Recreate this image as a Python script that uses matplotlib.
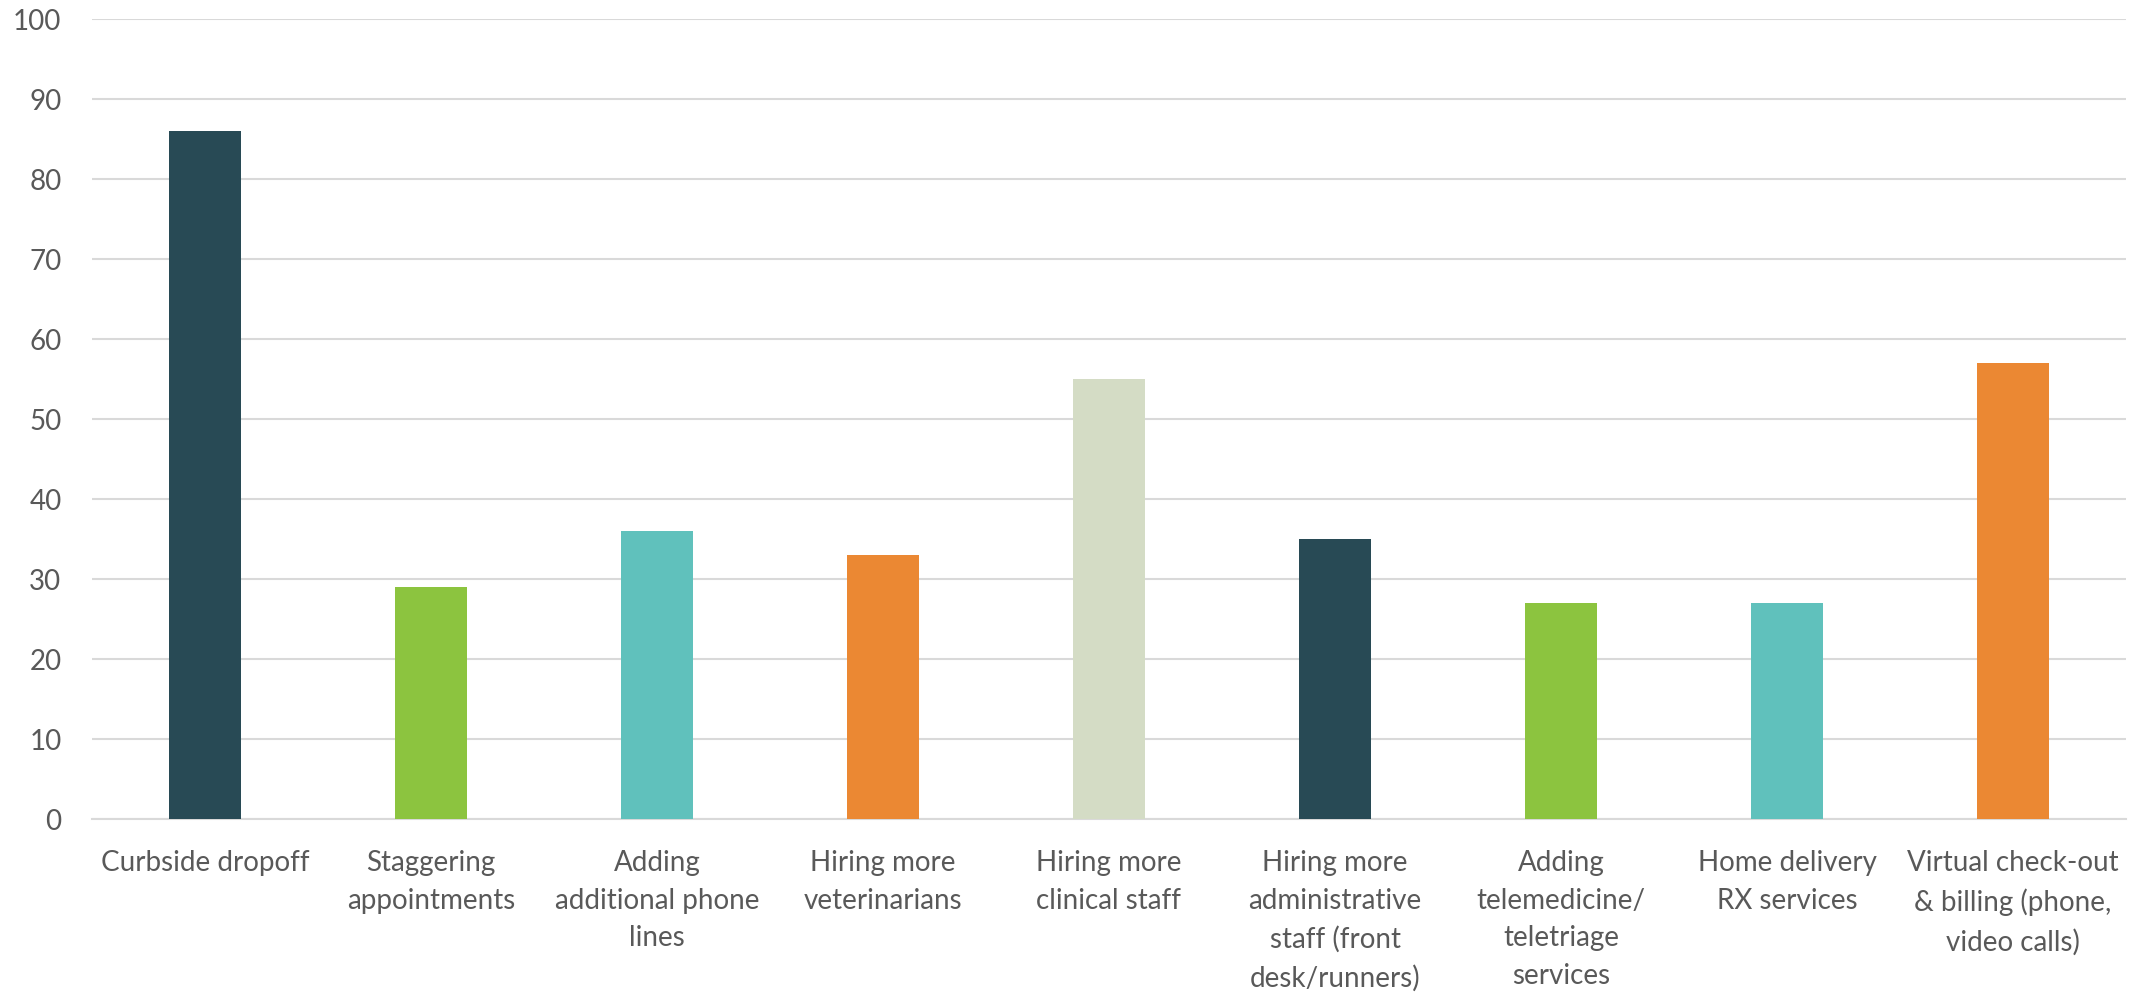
import matplotlib
matplotlib.use("Agg")
import matplotlib.pyplot as plt

categories = [
    "Curbside dropoff",
    "Staggering\nappointments",
    "Adding\nadditional phone\nlines",
    "Hiring more\nveterinarians",
    "Hiring more\nclinical staff",
    "Hiring more\nadministrative\nstaff (front\ndesk/runners)",
    "Adding\ntelemedicine/\nteletriage\nservices",
    "Home delivery\nRX services",
    "Virtual check-out\n& billing (phone,\nvideo calls)",
]
values = [86, 29, 36, 33, 55, 35, 27, 27, 57]
colors = ["#284A55", "#8CC43F", "#60C1BC", "#EB8833", "#D4DCC5",
          "#284A55", "#8CC43F", "#60C1BC", "#EB8833"]
yticks = [0, 10, 20, 30, 40, 50, 60, 70, 80, 90, 100]

plt.rcParams['font.family'] = ['Lato', 'DejaVu Sans']

fig = plt.figure(figsize=(21.56, 9.94), dpi=100)
ax = fig.add_axes([92/2156, 1 - 819/994, (2126-92)/2156, (819-19)/994])

x = list(range(len(categories)))
ax.bar(x, values, width=0.32, color=colors, zorder=3)
ax.set_xlim(-0.5, len(categories) - 0.5)
ax.set_ylim(0, 100)
ax.set_yticks(yticks)
ax.set_yticklabels([str(v) for v in yticks])
ax.set_xticks(x)
ax.set_xticklabels(categories, linespacing=1.57)

ax.grid(axis='y', color='#D9D9D9', linewidth=1.5, zorder=0)
for s in ['top', 'right', 'left']:
    ax.spines[s].set_visible(False)
ax.spines['bottom'].set_color('#D9D9D9')
ax.spines['bottom'].set_linewidth(1.5)
ax.tick_params(axis='both', length=0, labelsize=20, labelcolor='#595959')
ax.tick_params(axis='y', pad=22)
ax.tick_params(axis='x', pad=22)

fig.savefig("out.png", dpi=100)
